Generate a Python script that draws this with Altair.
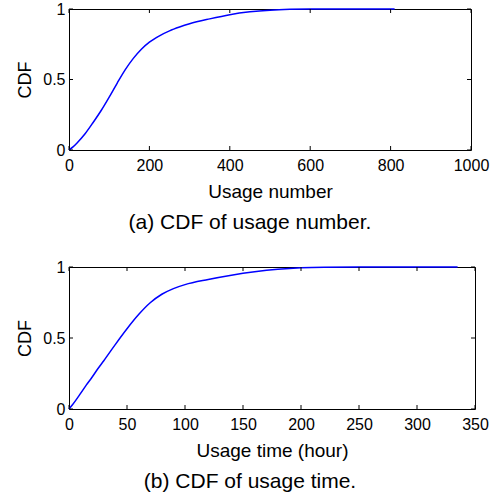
import altair as alt
import pandas as pd

# Panel (a): CDF of usage number
num_x = [0, 10, 20, 40, 60, 80, 100, 120, 140, 160, 180, 200, 225, 250, 275,
         300, 350, 400, 450, 500, 550, 600, 700, 810]
num_y = [0, 0.022, 0.05, 0.115, 0.195, 0.28, 0.375, 0.475, 0.57, 0.65, 0.715,
         0.765, 0.81, 0.845, 0.872, 0.895, 0.93, 0.96, 0.98, 0.992, 0.998, 1, 1, 1]
num_xticks = [0, 200, 400, 600, 800, 1000]

# Panel (b): CDF of usage time
time_x = [0, 3, 10, 15, 20, 25, 30, 40, 50, 60, 70, 80, 90, 100, 120, 140, 160,
          180, 200, 220, 250, 300, 335]
time_y = [0, 0.03, 0.11, 0.17, 0.225, 0.285, 0.34, 0.455, 0.565, 0.665, 0.748,
          0.808, 0.848, 0.876, 0.912, 0.942, 0.966, 0.984, 0.995, 0.999, 1, 1, 1]
time_xticks = [0, 50, 100, 150, 200, 250, 300, 350]

y_ticks = [0, 0.5, 1]

FONT = "Liberation Sans"
TICK = 4


def panel(xs, ys, xticks, xmax, xtitle, caption, w, h, dx):
    df = pd.DataFrame({"x": xs, "y": ys})
    xscale = alt.Scale(domain=[0, xmax], nice=False, zero=False)
    yscale = alt.Scale(domain=[0, 1], nice=False)
    xaxis = alt.Axis(values=xticks, format="d", ticks=False, domain=False, grid=False,
                     labelFont=FONT, labelFontSize=16, labelColor="black",
                     labelPadding=7, labelFlush=False, labelOverlap=False,
                     title=xtitle, titleFont=FONT, titleFontSize=19,
                     titleFontWeight="normal", titleColor="black", titlePadding=9)
    yaxis = alt.Axis(values=y_ticks, format="~g", ticks=False, domain=False, grid=False,
                     labelFont=FONT, labelFontSize=16, labelColor="black",
                     labelPadding=4, labelFlush=False, labelOverlap=False,
                     title="CDF", titleFont=FONT, titleFontSize=18,
                     titleFontWeight="normal", titleColor="black", titlePadding=8)
    line = alt.Chart(df).mark_line(color="#0000ff", strokeWidth=1.5,
                                   interpolate="monotone").encode(
        x=alt.X("x:Q", scale=xscale, axis=xaxis),
        y=alt.Y("y:Q", scale=yscale, axis=yaxis),
    )
    xt = pd.DataFrame({"t": xticks})
    yt = pd.DataFrame({"t": y_ticks})
    bot = alt.Chart(xt).mark_rule(color="black", strokeWidth=1).encode(
        x=alt.X("t:Q", scale=xscale), y=alt.value(h), y2=alt.value(h - TICK))
    top = alt.Chart(xt).mark_rule(color="black", strokeWidth=1).encode(
        x=alt.X("t:Q", scale=xscale), y=alt.value(0), y2=alt.value(TICK))
    left = alt.Chart(yt).mark_rule(color="black", strokeWidth=1).encode(
        y=alt.Y("t:Q", scale=yscale), x=alt.value(0), x2=alt.value(TICK))
    right = alt.Chart(yt).mark_rule(color="black", strokeWidth=1).encode(
        y=alt.Y("t:Q", scale=yscale), x=alt.value(w - TICK), x2=alt.value(w))
    return alt.layer(line, bot, top, left, right).properties(
        width=w, height=h,
        title=alt.TitleParams(caption, orient="bottom", anchor="middle", font=FONT,
                              fontSize=21, fontWeight="normal", color="black",
                              offset=11, dx=dx),
    )


a = panel(num_x, num_y, num_xticks, 1000, "Usage number",
          "(a) CDF of usage number.", 402, 141, -20)
b = panel(time_x, time_y, time_xticks, 350, "Usage time (hour)",
          "(b) CDF of usage time.", 406, 142, -22)

chart = alt.vconcat(a, b, spacing=24).properties(
    padding={"left": 16, "top": 0, "right": 0, "bottom": 0},
    background="white",
).configure_view(stroke="black", strokeWidth=1)

chart.save("out.html", embed_options={"renderer": "svg", "actions": False})
